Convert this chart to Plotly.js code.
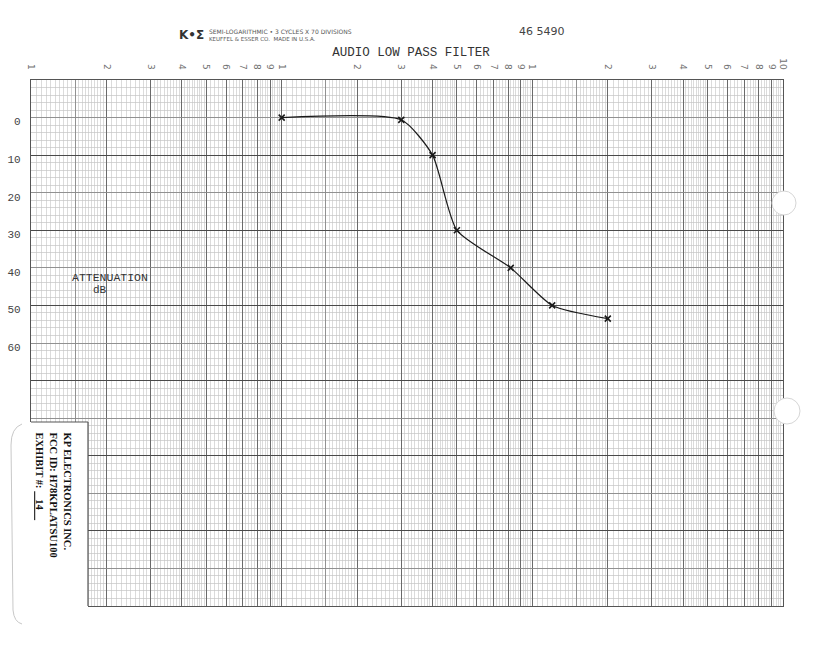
<!DOCTYPE html>
<html>
<head>
<meta charset="utf-8">
<script src="https://cdn.plot.ly/plotly-3.0.1.min.js"></script>
<style>
  html, body { margin: 0; padding: 0; background: #ffffff; }
  #chart { width: 819px; height: 650px; }
</style>
</head>
<body>
<div id="chart"></div>
<script>
// ---- data ----
const frequency = [10, 30, 40, 50, 82, 120, 200];
const attenuationDb = [0, 0.6, 10, 30, 40, 50, 53.5];

// log-axis labels (3 cycles, each 1..9, ending with 10)
const xTickVals = [1,2,3,4,5,6,7,8,9,10,20,30,40,50,60,70,80,90,100,200,300,400,500,600,700,800,900,1000];
const xTickText = ['1','2','3','4','5','6','7','8','9','1','2','3','4','5','6','7','8','9','1','2','3','4','5','6','7','8','9','10'];

const yTickVals = [0, 10, 20, 30, 40, 50, 60];
const yTickText = ['0', '10', '20', '30', '40', '50', '60'];

// ---- graph-paper rulings (styling only) ----
const decades = [1, 10, 100];
const xFine = [];
decades.forEach(d => {
  for (let m = 1.05; m < 2.0001; m += 0.05) xFine.push(+(m * d).toFixed(4));
  for (let m = 2.1; m < 5.0001; m += 0.1) xFine.push(+(m * d).toFixed(4));
  for (let m = 5.2; m < 10.0001; m += 0.2) xFine.push(+(m * d).toFixed(4));
});
const xMedium = [1.5, 15, 150];
const yFine = [];
for (let v = -10; v <= 130; v += 2) yFine.push(v);
const yMedium = [0, 20, 40, 60, 80, 100, 120];
const yHeavy = [-10, 10, 30, 50, 70, 90, 110, 130];

// plot box in pixels
const L = 31, R = 783, T = 80, B = 606;
const W = 819, H = 650;
const px = x => (x - L) / (R - L);
const py = y => (B - y) / (B - T);

const typeFont = 'Liberation Mono, DejaVu Sans Mono, monospace';
const NB = '\u00A0';

const traces = [
  {
    x: frequency, y: attenuationDb,
    xaxis: 'x', yaxis: 'y',
    type: 'scatter', mode: 'lines+markers',
    line: { color: '#1a1a1a', width: 1.2, shape: 'spline', smoothing: 0.6 },
    marker: { symbol: 'x-thin-open', size: 6, color: '#1a1a1a', line: { width: 1.6, color: '#1a1a1a' } },
    hoverinfo: 'x+y', showlegend: false
  },
  { x: [], y: [], xaxis: 'x2', yaxis: 'y2', type: 'scatter', mode: 'lines', showlegend: false },
  { x: [], y: [], xaxis: 'x3', yaxis: 'y3', type: 'scatter', mode: 'lines', showlegend: false }
];

const logRange = [0, 3];
const yRange = [130, -10];

const layout = {
  width: W, height: H,
  margin: { l: L, r: W - R, t: T, b: H - B, pad: 0 },
  paper_bgcolor: '#ffffff', plot_bgcolor: '#ffffff',
  showlegend: false,
  title: {
    text: 'AUDIO LOW PASS FILTER',
    x: 411 / W, xref: 'container', xanchor: 'center',
    y: 1 - 52 / H, yref: 'container', yanchor: 'middle',
    font: { family: typeFont, size: 12.5, color: '#333333' }
  },
  xaxis: {
    type: 'log', range: logRange, side: 'top',
    tickmode: 'array', tickvals: xTickVals, ticktext: xTickText,
    tickangle: 90, ticks: '', ticklabelstandoff: 6,
    tickfont: { family: 'DejaVu Sans, sans-serif', size: 9, color: '#707070' },
    showgrid: true, gridcolor: '#6a6a6a', gridwidth: 1,
    minor: { tickmode: 'array', tickvals: xFine, showgrid: true, gridcolor: '#cccccc', gridwidth: 0.7, ticks: '' },
    showline: true, mirror: true, linecolor: '#555555', linewidth: 1.2,
    zeroline: false, fixedrange: true
  },
  xaxis2: {
    type: 'log', range: logRange, overlaying: 'x', side: 'top',
    tickmode: 'array', tickvals: xMedium, showticklabels: false, ticks: '',
    showgrid: true, gridcolor: '#8a8a8a', gridwidth: 0.9,
    showline: false, zeroline: false, fixedrange: true
  },
  xaxis3: {
    type: 'log', range: logRange, overlaying: 'x', side: 'top',
    tickmode: 'array', tickvals: [], showticklabels: false, ticks: '',
    showgrid: false, showline: false, zeroline: false, fixedrange: true
  },
  yaxis: {
    range: yRange, autorange: false,
    tickmode: 'array', tickvals: yTickVals, ticktext: yTickText,
    ticks: '', ticklabelstandoff: 7, ticklabelshift: -4,
    tickfont: { family: typeFont, size: 11, color: '#444444' },
    showgrid: false,
    minor: { tickmode: 'array', tickvals: yFine, showgrid: true, gridcolor: '#c4c4c4', gridwidth: 0.7, ticks: '' },
    showline: true, mirror: true, linecolor: '#555555', linewidth: 1.2,
    zeroline: false, fixedrange: true
  },
  yaxis2: {
    range: yRange, autorange: false, overlaying: 'y',
    tickmode: 'array', tickvals: yMedium, showticklabels: false, ticks: '',
    showgrid: true, gridcolor: '#8a8a8a', gridwidth: 0.9,
    showline: false, zeroline: false, fixedrange: true
  },
  yaxis3: {
    range: yRange, autorange: false, overlaying: 'y',
    tickmode: 'array', tickvals: yHeavy, showticklabels: false, ticks: '',
    showgrid: true, gridcolor: '#4a4a4a', gridwidth: 1.2,
    showline: false, zeroline: false, fixedrange: true
  },
  shapes: [
    // blank label corner at lower left of the sheet
    { type: 'rect', xref: 'paper', yref: 'paper', layer: 'above',
      x0: px(L - 2), x1: px(88), y0: py(B + 3), y1: py(422),
      fillcolor: '#ffffff', line: { width: 0 } },
    { type: 'line', xref: 'paper', yref: 'paper', layer: 'above',
      x0: px(L), x1: px(88), y0: py(422), y1: py(422), line: { color: '#555555', width: 1.2 } },
    { type: 'line', xref: 'paper', yref: 'paper', layer: 'above',
      x0: px(88), x1: px(88), y0: py(422), y1: py(B), line: { color: '#555555', width: 1.2 } },
    // rounded outline of the label strip
    { type: 'path', xref: 'paper', yref: 'paper', layer: 'above',
      path: 'M ' + px(22) + ' ' + py(424) + ' Q ' + px(11) + ' ' + py(428) + ' ' + px(11) + ' ' + py(445) +
            ' L ' + px(13) + ' ' + py(610) + ' Q ' + px(14) + ' ' + py(622) + ' ' + px(22) + ' ' + py(624),
      line: { color: '#c8c8c8', width: 1 } },
    // punch holes on the right edge
    { type: 'circle', xref: 'paper', yref: 'paper', layer: 'above',
      x0: px(772), x1: px(796), y0: py(215), y1: py(191),
      fillcolor: '#ffffff', line: { color: '#d6d6d6', width: 1 } },
    { type: 'circle', xref: 'paper', yref: 'paper', layer: 'above',
      x0: px(774), x1: px(800), y0: py(424), y1: py(398),
      fillcolor: '#ffffff', line: { color: '#d6d6d6', width: 1 } }
  ],
  annotations: [
    { text: '<b>K•Σ</b>', xref: 'paper', yref: 'paper', x: px(191), y: py(35),
      xanchor: 'center', yanchor: 'middle', showarrow: false,
      font: { family: 'DejaVu Sans, sans-serif', size: 12, color: '#333333' } },
    { text: 'SEMI-LOGARITHMIC • 3 CYCLES X 70 DIVISIONS', xref: 'paper', yref: 'paper', x: px(207), y: py(31),
      xanchor: 'left', yanchor: 'middle', showarrow: false,
      font: { family: 'DejaVu Sans, sans-serif', size: 6, color: '#555555' } },
    { text: 'KEUFFEL & ESSER CO.  MADE IN U.S.A.', xref: 'paper', yref: 'paper', x: px(207), y: py(38.5),
      xanchor: 'left', yanchor: 'middle', showarrow: false,
      font: { family: 'DejaVu Sans, sans-serif', size: 5.5, color: '#555555' } },
    { text: '46 5490', xref: 'paper', yref: 'paper', x: px(542), y: py(31),
      xanchor: 'center', yanchor: 'middle', showarrow: false,
      font: { family: 'DejaVu Sans, sans-serif', size: 11, color: '#444444' } },
    { text: 'ATTENUATION', xref: 'paper', yref: 'paper', x: px(110), y: py(277),
      xanchor: 'center', yanchor: 'middle', showarrow: false,
      font: { family: typeFont, size: 11.5, color: '#333333' } },
    { text: 'dB', xref: 'paper', yref: 'paper', x: px(100), y: py(290),
      xanchor: 'center', yanchor: 'middle', showarrow: false,
      font: { family: typeFont, size: 11, color: '#333333' } },
    { text: '<b>KP ELECTRONICS INC.<br>FCC ID: H78KPLATSU100<br>EXHIBIT #: <span style="text-decoration:underline">' +
            NB + NB + NB + '14' + NB + NB + NB + NB + '</span></b>',
      xref: 'paper', yref: 'paper', x: px(54), y: py(430),
      xanchor: 'center', yanchor: 'top', showarrow: false, textangle: 90, align: 'left',
      font: { family: 'Liberation Serif, serif', size: 10.5, color: '#111111' } }
  ]
};

Plotly.newPlot('chart', traces, layout, { staticPlot: true, displayModeBar: false });
</script>
</body>
</html>
